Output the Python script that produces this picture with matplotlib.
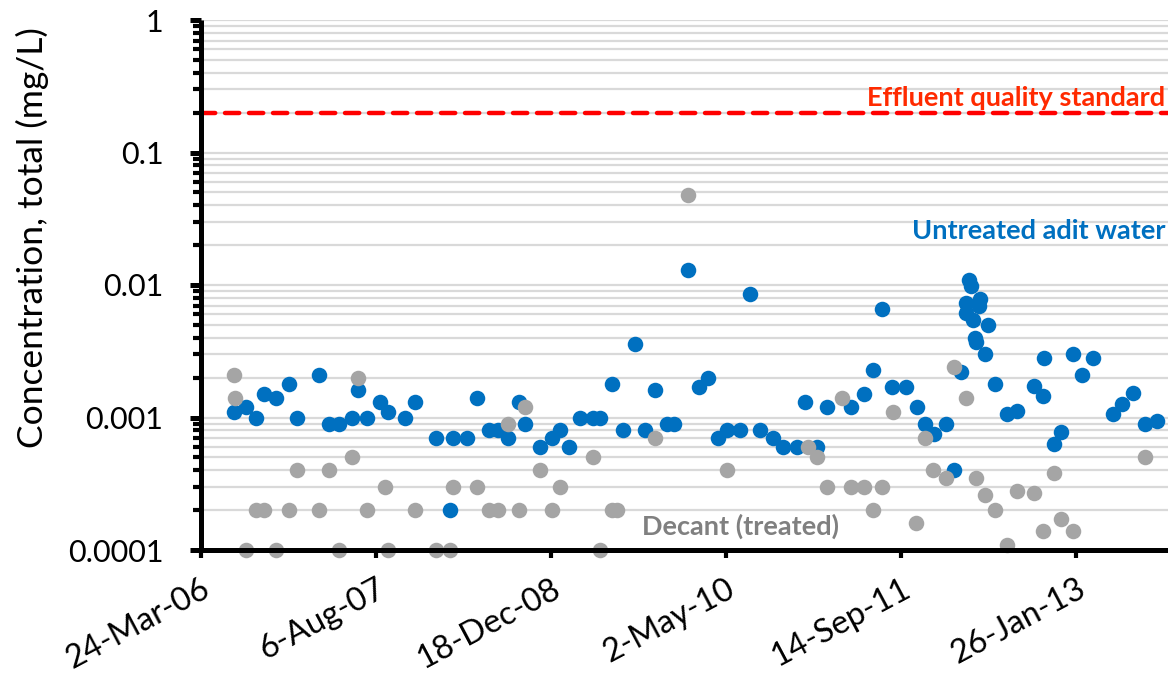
import matplotlib
matplotlib.use("Agg")
import matplotlib.pyplot as plt
import matplotlib.dates as mdates
from matplotlib.ticker import LogLocator, FixedLocator, NullFormatter, FixedFormatter
import pandas as pd

# Untreated adit water samples (total concentration, mg/L)
adit_dates = [
    "2006-06-27", "2006-07-31", "2006-08-29", "2006-09-21", "2006-10-25", "2006-11-29",
    "2006-12-22", "2007-02-23", "2007-03-24", "2007-04-22", "2007-05-29", "2007-06-15",
    "2007-07-11", "2007-08-18", "2007-09-10", "2007-10-28", "2007-11-26", "2008-01-23",
    "2008-03-03", "2008-03-14", "2008-04-21", "2008-05-19", "2008-06-23", "2008-07-19",
    "2008-08-17", "2008-09-17", "2008-10-04", "2008-11-16", "2008-12-21", "2009-01-13",
    "2009-02-08", "2009-03-11", "2009-04-18", "2009-05-08", "2009-06-09", "2009-07-10",
    "2009-08-14", "2009-09-11", "2009-10-10", "2009-11-14", "2009-12-04", "2010-01-13",
    "2010-02-14", "2010-03-11", "2010-04-09", "2010-05-05", "2010-06-11", "2010-07-10",
    "2010-08-08", "2010-09-14", "2010-10-10", "2010-11-19", "2010-12-12", "2011-01-16",
    "2011-02-14", "2011-04-23", "2011-05-31", "2011-06-26", "2011-07-21", "2011-08-19",
    "2011-09-28", "2011-10-30", "2011-11-22", "2011-12-18", "2012-01-19", "2012-02-13",
    "2012-03-02", "2012-03-16", "2012-03-17", "2012-03-25", "2012-03-30", "2012-04-05",
    "2012-04-11", "2012-04-14", "2012-04-22", "2012-04-25", "2012-05-10", "2012-05-18",
    "2012-06-07", "2012-07-12", "2012-08-10", "2012-09-27", "2012-10-23", "2012-10-26",
    "2012-11-24", "2012-12-14", "2013-01-18", "2013-02-12", "2013-03-16", "2013-05-12",
    "2013-06-07", "2013-07-06", "2013-08-10", "2013-09-13",
]
adit_conc = [
    0.0011, 0.0012, 0.0010, 0.0015, 0.0014, 0.0018,
    0.0010, 0.0021, 0.0009, 0.0009, 0.0010, 0.0016,
    0.0010, 0.0013, 0.0011, 0.0010, 0.0013, 0.0007,
    0.0002, 0.0007, 0.0007, 0.0014, 0.0008, 0.0008,
    0.0007, 0.0013, 0.0009, 0.0006, 0.0007, 0.0008,
    0.0006, 0.0010, 0.0010, 0.0010, 0.0018, 0.0008,
    0.0036, 0.0008, 0.0016, 0.0009, 0.0009, 0.013,
    0.0017, 0.0020, 0.0007, 0.0008, 0.0008, 0.0085,
    0.0008, 0.0007, 0.0006, 0.0006, 0.0013, 0.0006,
    0.0012, 0.0012, 0.0015, 0.0023, 0.0066, 0.0017,
    0.0017, 0.0012, 0.0009, 0.00075, 0.0009, 0.0004,
    0.0022, 0.0073, 0.0061, 0.011, 0.0098, 0.0054,
    0.0040, 0.0037, 0.0070, 0.0078, 0.0030, 0.0050,
    0.0018, 0.00106, 0.00112, 0.00173, 0.00145, 0.0028,
    0.00063, 0.00078, 0.0030, 0.0021, 0.0028, 0.00106,
    0.00126, 0.00153, 0.0009, 0.00094,
]

# Decant (treated) samples
decant_dates = [
    "2006-06-27", "2006-06-28", "2006-07-31", "2006-08-29", "2006-09-21", "2006-10-25",
    "2006-11-29", "2006-12-22", "2007-02-23", "2007-03-24", "2007-04-22", "2007-05-29",
    "2007-06-15", "2007-07-11", "2007-09-01", "2007-09-10", "2007-11-26", "2008-01-23",
    "2008-03-03", "2008-03-14", "2008-05-19", "2008-06-23", "2008-07-19", "2008-08-17",
    "2008-09-17", "2008-10-04", "2008-11-16", "2008-12-21", "2009-01-13", "2009-04-18",
    "2009-05-08", "2009-06-09", "2009-06-23", "2009-10-10", "2010-01-13", "2010-05-05",
    "2010-12-21", "2011-01-16", "2011-02-14", "2011-03-29", "2011-04-23", "2011-05-31",
    "2011-06-26", "2011-07-21", "2011-08-21", "2011-10-27", "2011-11-22", "2011-12-15",
    "2012-01-19", "2012-02-13", "2012-03-16", "2012-04-14", "2012-05-10", "2012-06-07",
    "2012-07-12", "2012-08-10", "2012-09-27", "2012-10-23", "2012-11-24", "2012-12-14",
    "2013-01-18", "2013-08-10",
]
decant_conc = [
    0.0021, 0.0014, 0.0001, 0.0002, 0.0002, 0.0001,
    0.0002, 0.0004, 0.0002, 0.0004, 0.0001, 0.0005,
    0.0020, 0.0002, 0.0003, 0.0001, 0.0002, 0.0001,
    0.0001, 0.0003, 0.0003, 0.0002, 0.0002, 0.0009,
    0.0002, 0.0012, 0.0004, 0.0002, 0.0003, 0.0005,
    0.0001, 0.0002, 0.0002, 0.0007, 0.048, 0.0004,
    0.0006, 0.0005, 0.0003, 0.0014, 0.0003, 0.0003,
    0.0002, 0.0003, 0.0011, 0.00016, 0.0007, 0.0004,
    0.00035, 0.0024, 0.0014, 0.00035, 0.00026, 0.0002,
    0.00011, 0.00028, 0.00027, 0.00014, 0.00038, 0.00017,
    0.00014, 0.0005,
]

standard_limit = 0.2
tick_dates = ["2006-03-24", "2007-08-06", "2008-12-18", "2010-05-02", "2011-09-14", "2013-01-26"]
tick_labels = ["24-Mar-06", "6-Aug-07", "18-Dec-08", "2-May-10", "14-Sep-11", "26-Jan-13"]
x_end = "2013-10-15"

BLUE = "#0070C0"
GREY = "#A5A5A5"
FONT = "Lato"

W, H = 1168, 686
fig = plt.figure(figsize=(W / 100, H / 100), dpi=100)
ax = fig.add_axes([201 / W, (H - 550) / H, (W - 201) / W, 530 / H])

ax.set_yscale("log")
ax.set_ylim(0.0001, 1)
ax.set_xlim(mdates.date2num(pd.Timestamp(tick_dates[0])), mdates.date2num(pd.Timestamp(x_end)))

# horizontal grid at every major and minor decade step
ax.yaxis.set_major_locator(LogLocator(base=10, numticks=10))
ax.yaxis.set_minor_locator(LogLocator(base=10, subs=range(2, 10), numticks=20))
ax.yaxis.set_minor_formatter(NullFormatter())
ax.grid(True, which="both", axis="y", color="#D9D9D9", linewidth=1.6, zorder=0)
ax.set_axisbelow(True)

ax.set_yticks([0.0001, 0.001, 0.01, 0.1, 1])
ax.set_yticklabels(["0.0001", "0.001", "0.01", "0.1", "1"], fontfamily=FONT, fontsize=22)

xt = [mdates.date2num(pd.Timestamp(d)) for d in tick_dates]
ax.xaxis.set_major_locator(FixedLocator(xt))
ax.xaxis.set_major_formatter(FixedFormatter(tick_labels))
for lbl in ax.get_xticklabels():
    lbl.set_fontfamily(FONT)
    lbl.set_fontsize(23.5)
    lbl.set_rotation(28)
    lbl.set_ha("right")
    lbl.set_va("top")
    lbl.set_rotation_mode("anchor")

for side in ("top", "right"):
    ax.spines[side].set_visible(False)
for side in ("left", "bottom"):
    ax.spines[side].set_linewidth(3.6)
    ax.spines[side].set_color("black")
    ax.spines[side].set_capstyle("butt")

ax.tick_params(axis="y", which="major", direction="out", length=8, width=3.6, pad=19, colors="black")
ax.tick_params(axis="y", which="minor", direction="out", length=5.5, width=3.0, colors="black")
ax.tick_params(axis="x", which="major", direction="out", length=6, width=3.0, pad=11, colors="black")

# effluent quality standard
ax.axhline(standard_limit, color="#FF0000", linewidth=3.2, linestyle=(0, (3.2, 2.2)),
           dash_capstyle="round", zorder=2)

ad = [mdates.date2num(pd.Timestamp(d)) for d in adit_dates]
dd = [mdates.date2num(pd.Timestamp(d)) for d in decant_dates]
ax.scatter(ad, adit_conc, s=125, color=BLUE, linewidths=0, zorder=1.5, clip_on=False)
ax.scatter(dd, decant_conc, s=125, color=GREY, linewidths=0, zorder=1.6, clip_on=False)

fig.text(1165 / W, 1 - 106 / H, "Effluent quality standard", color="#FF2A00",
         fontfamily=FONT, fontweight="bold", fontsize=19.5, ha="right", va="baseline")
fig.text(1165 / W, 1 - 239 / H, "Untreated adit water", color=BLUE,
         fontfamily=FONT, fontweight="bold", fontsize=19.5, ha="right", va="baseline")
fig.text(741 / W, 1 - 535 / H, "Decant (treated)", color="#808080",
         fontfamily=FONT, fontweight="bold", fontsize=19.5, ha="center", va="baseline")

fig.text(32 / W, 1 - 238 / H, "Concentration, total (mg/L)", rotation=90,
         fontfamily=FONT, fontsize=25.5, ha="center", va="center")

fig.savefig("out.png", dpi=100)
